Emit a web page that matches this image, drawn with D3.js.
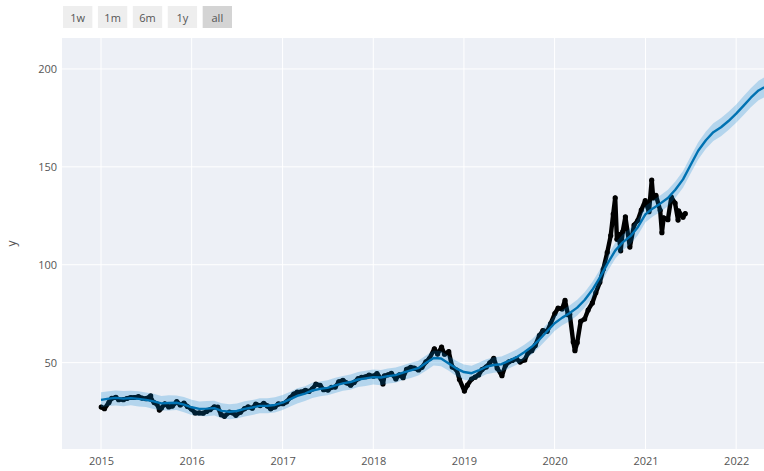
<!DOCTYPE html>
<html>
<head>
<meta charset="utf-8">
<script src="https://cdn.jsdelivr.net/npm/d3@7"></script>
<style>
  html, body { margin: 0; padding: 0; background: #fff; }
  svg { display: block; }
</style>
</head>
<body>
<svg id="chart" width="764" height="471"></svg>
<script>
// ---------------- DATA ----------------
const rangeButtons = ["1w", "1m", "6m", "1y", "all"];
const activeButton = "all";
const xTickYears = [2015, 2016, 2017, 2018, 2019, 2020, 2021, 2022];
const yTicks = [50, 100, 150, 200];
const yTitle = "y";

// Actual observations (date, value)
const actualDates = [
 "2015-01-02","2015-01-15","2015-02-02","2015-02-13","2015-03-02","2015-03-13","2015-04-01","2015-04-15","2015-05-01","2015-05-15",
 "2015-06-01","2015-06-15","2015-07-01","2015-07-20","2015-07-22","2015-08-03","2015-08-14","2015-08-24","2015-09-01","2015-09-15",
 "2015-10-01","2015-10-15","2015-11-02","2015-11-16","2015-12-01","2015-12-15","2015-12-31","2016-01-15","2016-02-01","2016-02-16",
 "2016-03-01","2016-03-15","2016-04-01","2016-04-15","2016-04-29","2016-05-12","2016-06-01","2016-06-15","2016-06-27","2016-07-15",
 "2016-08-01","2016-08-15","2016-09-01","2016-09-15","2016-10-03","2016-10-17","2016-11-01","2016-11-14","2016-12-01","2016-12-15",
 "2017-01-03","2017-01-17","2017-02-01","2017-02-15","2017-03-01","2017-03-15","2017-04-03","2017-04-17","2017-05-01","2017-05-15",
 "2017-06-01","2017-06-15","2017-07-03","2017-07-17","2017-08-01","2017-08-15","2017-09-01","2017-09-15","2017-10-02","2017-10-16",
 "2017-11-01","2017-11-15","2017-12-01","2017-12-15","2018-01-02","2018-01-16","2018-02-01","2018-02-09","2018-02-15","2018-03-01",
 "2018-03-15","2018-04-02","2018-04-16","2018-05-01","2018-05-15","2018-06-01","2018-06-15","2018-07-02","2018-07-16","2018-08-01",
 "2018-08-15","2018-09-04","2018-09-17","2018-10-03","2018-10-15","2018-11-01","2018-11-15","2018-12-03","2018-12-14","2019-01-03",
 "2019-01-15","2019-02-01","2019-02-15","2019-03-01","2019-03-15","2019-04-01","2019-04-15","2019-05-01","2019-05-15","2019-06-03",
 "2019-06-17","2019-07-01","2019-07-15","2019-08-01","2019-08-15","2019-09-03","2019-09-16","2019-10-01","2019-10-15","2019-11-01",
 "2019-11-15","2019-12-02","2019-12-16","2020-01-02","2020-01-15","2020-01-31","2020-02-12","2020-02-24","2020-03-02","2020-03-16",
 "2020-03-23","2020-04-01","2020-04-15","2020-05-01","2020-05-15","2020-06-01","2020-06-15","2020-07-01","2020-07-15","2020-07-31",
 "2020-08-14","2020-08-24","2020-09-01","2020-09-08","2020-09-15","2020-09-23","2020-10-01","2020-10-12","2020-10-30","2020-11-16",
 "2020-12-01","2020-12-15","2020-12-31","2021-01-15","2021-01-26","2021-02-01","2021-02-12","2021-03-01","2021-03-08","2021-03-15",
 "2021-04-01","2021-04-15","2021-04-30","2021-05-12","2021-05-14","2021-06-01","2021-06-10"
];
const actualValues = [
 27.3,26.5,29.7,31.8,32.3,31.1,31.1,31.7,32.2,32.2,
 32.6,31.9,31.6,33.0,31.3,29.6,28.9,25.8,26.8,29.0,
 27.4,27.8,30.1,28.4,29.3,27.6,26.3,24.3,24.3,24.2,
 25.1,26.0,27.4,27.3,23.4,22.6,24.7,24.3,23.1,24.7,
 26.5,27.4,26.7,28.8,28.1,29.2,27.9,26.4,27.4,28.9,
 29.0,30.0,32.2,33.9,34.9,35.0,35.9,35.3,36.6,39.0,
 38.4,36.2,36.0,37.4,37.5,40.2,41.0,39.7,38.5,39.9,
 41.8,42.5,42.8,43.6,43.1,44.4,41.9,39.1,43.3,43.8,
 44.5,41.7,43.8,42.3,46.6,47.6,47.2,46.3,47.6,50.4,
 52.1,57.1,54.4,58.0,54.3,55.6,47.8,46.2,41.4,35.5,
 38.5,41.6,42.6,43.7,46.5,47.8,49.9,52.2,47.2,43.3,
 48.5,50.4,51.1,52.0,50.3,51.4,54.9,56.1,58.8,63.9,
 66.4,66.0,69.9,75.1,77.8,77.4,81.8,74.5,74.7,60.6,
 56.1,60.2,71.1,72.3,76.9,80.5,85.7,91.0,97.7,106.3,
 114.9,125.9,134.2,113.0,115.5,107.1,116.8,124.4,109.0,120.3,
 122.7,127.9,132.7,127.1,143.2,134.1,135.4,127.8,116.4,124.0,
 123.0,134.5,131.5,122.8,127.5,124.3,126.1
];

// Forecast: monthly from 2015-01 to 2022-04, then the last forecast day
const forecastStart = "2015-01-01";
const forecastEnd = "2022-04-24";
const yhat = [
 31.0,31.6,32.0,31.6,31.9,31.5,31.0,30.2,29.2,29.4,29.5,28.6,
 27.2,26.4,26.5,26.8,25.4,24.9,25.3,26.4,27.1,27.9,28.0,28.4,
 29.6,31.4,33.0,34.2,35.8,36.6,37.1,38.4,39.4,40.1,41.4,42.0,
 42.6,42.4,43.1,43.6,44.9,46.1,47.2,49.8,52.4,52.1,49.6,47.1,
 45.2,44.6,46.0,47.9,48.8,49.2,50.9,52.8,55.3,58.1,61.8,65.9,
 70.1,73.0,75.2,78.1,82.0,87.2,93.4,100.6,107.2,111.4,114.6,119.2,
 125.8,128.9,131.2,134.1,138.3,143.6,150.8,158.2,163.6,167.7,170.2,173.4,
 177.2,181.4,185.3,189.0,190.6
];
const yhatLower = [
 27.2,27.9,28.1,27.7,28.2,27.6,27.3,26.3,25.5,25.5,25.8,24.7,
 23.3,22.7,22.6,23.0,21.6,21.1,21.5,22.5,23.3,24.1,24.2,24.5,
 25.8,27.6,29.1,30.4,31.9,32.8,33.3,34.5,35.6,36.2,37.6,38.1,
 38.8,38.5,39.3,39.7,41.1,42.2,43.4,45.9,48.6,48.2,45.8,43.2,
 41.3,40.8,42.1,44.1,44.9,45.4,47.0,48.9,51.5,54.2,58.0,62.0,
 66.1,69.1,71.2,74.1,78.1,83.1,89.4,96.6,103.1,107.3,110.5,115.1,
 121.7,124.8,127.0,129.9,134.1,139.3,146.5,153.8,159.2,163.2,165.6,168.8,
 172.5,176.6,180.4,184.0,185.5
];
const yhatUpper = [
 34.9,35.4,35.8,35.5,35.7,35.4,34.8,34.1,33.0,33.3,33.2,32.5,
 31.0,30.2,30.4,30.6,29.3,28.7,29.1,30.3,30.9,31.8,31.8,32.3,
 33.5,35.2,36.9,38.0,39.7,40.4,41.0,42.3,43.2,44.0,45.2,45.9,
 46.5,46.2,47.0,47.5,48.7,50.0,51.0,53.7,56.2,56.0,53.4,51.0,
 49.1,48.4,49.9,51.7,52.7,53.1,54.8,56.7,59.1,62.0,65.6,69.8,
 74.1,77.0,79.2,82.1,86.0,91.2,97.4,104.6,111.2,115.5,118.6,123.3,
 130.0,133.1,135.4,138.3,142.5,147.9,155.1,162.6,168.1,172.3,174.9,178.1,
 181.9,186.3,190.2,194.0,195.7
];

// ---------------- CHART ----------------
const W = 764, H = 471;
const plot = { left: 62, right: 764, top: 38, bottom: 449 };
const parse = d3.utcParse("%Y-%m-%d");

const actual = actualDates.map((d, i) => ({ date: parse(d), v: actualValues[i] }));
const fDates = d3.utcMonth.range(parse(forecastStart), d3.utcMonth.offset(parse("2022-04-01"), 1));
fDates.push(parse(forecastEnd));
const forecast = fDates.map((d, i) => ({ date: d, yhat: yhat[i], lo: yhatLower[i], hi: yhatUpper[i] }));

const x = d3.scaleUtc()
  .domain([parse("2014-07-28"), parse("2022-04-23")])
  .range([plot.left, plot.right]);
const y = d3.scaleLinear()
  .domain([5.9, 215.8])
  .range([plot.bottom, plot.top]);

const svg = d3.select("#chart");
svg.append("rect").attr("width", W).attr("height", H).attr("fill", "#fff");

const font = "'Open Sans', 'DejaVu Sans', sans-serif";
const textColor = "#555";

// plot background
svg.append("rect")
  .attr("x", plot.left).attr("y", plot.top)
  .attr("width", plot.right - plot.left).attr("height", plot.bottom - plot.top)
  .attr("fill", "#edf0f6");

// grid
const grid = svg.append("g");
grid.selectAll("line.v").data(xTickYears).join("line")
  .attr("x1", d => x(Date.UTC(d, 0, 1))).attr("x2", d => x(Date.UTC(d, 0, 1)))
  .attr("y1", plot.top).attr("y2", plot.bottom)
  .attr("stroke", "#fff").attr("stroke-width", 1);
grid.selectAll("line.h").data(yTicks).join("line")
  .attr("x1", plot.left).attr("x2", plot.right)
  .attr("y1", d => y(d)).attr("y2", d => y(d))
  .attr("stroke", "#fff").attr("stroke-width", 1);

// clip
svg.append("clipPath").attr("id", "clip").append("rect")
  .attr("x", plot.left).attr("y", plot.top)
  .attr("width", plot.right - plot.left).attr("height", plot.bottom - plot.top);
const g = svg.append("g").attr("clip-path", "url(#clip)");

// actual (drawn first, as in the original)
const actualLine = d3.line().x(d => x(d.date)).y(d => y(d.v));
g.append("path").datum(actual)
  .attr("d", actualLine)
  .attr("fill", "none").attr("stroke", "#000")
  .attr("stroke-width", 4.4).attr("stroke-linejoin", "round").attr("stroke-linecap", "round");
g.selectAll("circle.act").data(actual).join("circle")
  .attr("cx", d => x(d.date)).attr("cy", d => y(d.v)).attr("r", 2.6)
  .attr("fill", "#000");

// uncertainty band
const area = d3.area().x(d => x(d.date)).y0(d => y(d.lo)).y1(d => y(d.hi));
g.append("path").datum(forecast)
  .attr("d", area)
  .attr("fill", "rgba(0,130,210,0.24)");

// forecast line
const fLine = d3.line().x(d => x(d.date)).y(d => y(d.yhat));
g.append("path").datum(forecast)
  .attr("d", fLine)
  .attr("fill", "none").attr("stroke", "#0072B2").attr("stroke-width", 2.4)
  .attr("stroke-linejoin", "round");

// axes labels
const xAxis = d3.axisBottom(x)
  .tickValues(xTickYears.map(yr => new Date(Date.UTC(yr, 0, 1))))
  .tickFormat(d3.utcFormat("%Y")).tickSize(0).tickPadding(0);
const xg = svg.append("g").attr("transform", `translate(0,${plot.bottom + 8})`).call(xAxis);
xg.select(".domain").remove();
xg.selectAll("text").attr("font-family", font).attr("font-size", 11).attr("fill", textColor).attr("dy", "0.71em");

const yAxis = d3.axisLeft(y).tickValues(yTicks).tickSize(0).tickPadding(0);
const yg = svg.append("g").attr("transform", `translate(${plot.left - 5},0)`).call(yAxis);
yg.select(".domain").remove();
yg.selectAll("text").attr("font-family", font).attr("font-size", 11).attr("fill", textColor);

svg.append("text")
  .attr("transform", `translate(13,${(plot.top + plot.bottom) / 2}) rotate(-90)`)
  .attr("text-anchor", "middle").attr("dominant-baseline", "middle")
  .attr("font-family", font).attr("font-size", 12).attr("fill", textColor)
  .text(yTitle);

// range selector buttons
const bx = d3.scaleBand().domain(rangeButtons).range([63, 232]).paddingInner(0.16).paddingOuter(0);
const btn = svg.append("g").selectAll("g").data(rangeButtons).join("g")
  .attr("transform", d => `translate(${bx(d)},6)`);
btn.append("rect")
  .attr("width", bx.bandwidth()).attr("height", 22)
  .attr("fill", d => d === activeButton ? "#d4d4d4" : "#eeeeee");
btn.append("text")
  .attr("x", bx.bandwidth() / 2).attr("y", 11)
  .attr("text-anchor", "middle").attr("dominant-baseline", "central")
  .attr("font-family", font).attr("font-size", 11).attr("fill", textColor)
  .text(d => d);
</script>
</body>
</html>
